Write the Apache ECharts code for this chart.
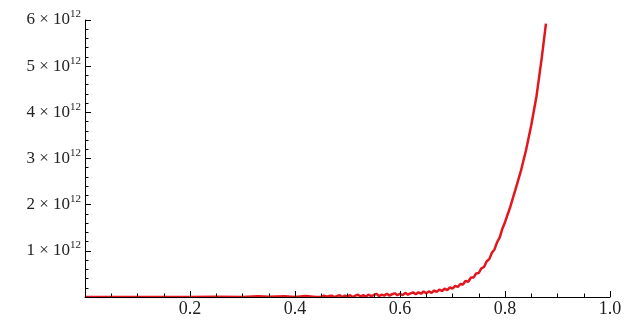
<!DOCTYPE html>
<html>
<head>
<meta charset="utf-8">
<script src="https://cdn.jsdelivr.net/npm/echarts@6/dist/echarts.min.js"></script>
<style>
  html, body { margin: 0; padding: 0; background: #fff; }
  #chart { width: 629px; height: 323px; }
</style>
</head>
<body>
<div id="chart"></div>
<script>
// curve, y in units of 10^12
const xValues = [
  0, 0.1, 0.2, 0.25, 0.3, 0.33, 0.35, 0.38, 0.4, 0.42, 0.44,
  0.450, 0.455, 0.460, 0.465, 0.470, 0.475, 0.480, 0.485, 0.490, 0.495,
  0.500, 0.505, 0.510, 0.515, 0.520, 0.525, 0.530, 0.535, 0.540, 0.545,
  0.550, 0.555, 0.560, 0.565, 0.570, 0.575, 0.580, 0.585, 0.590, 0.595,
  0.600, 0.605, 0.610, 0.615, 0.620, 0.625, 0.630, 0.635, 0.640, 0.645,
  0.650, 0.655, 0.660, 0.665, 0.670, 0.675, 0.680, 0.685, 0.690, 0.695,
  0.700, 0.705, 0.710, 0.715, 0.720, 0.725, 0.730, 0.735, 0.740, 0.745,
  0.750, 0.755, 0.760, 0.765, 0.770, 0.775, 0.780, 0.785, 0.790, 0.795,
  0.800, 0.810, 0.820, 0.830, 0.840, 0.850, 0.860, 0.870, 0.878
];
const yValues = [
  0, 0, 0, 0.005, 0, 0.015, 0.005, 0.015, 0, 0.02, 0,
  0.00, 0.03, 0.005, 0.02, 0.03, 0.00, 0.02, 0.04, 0.00, 0.03,
  0.01, 0.04, 0.00, 0.03, 0.05, 0.01, 0.04, 0.01, 0.05, 0.02,
  0.04, 0.07, 0.02, 0.05, 0.03, 0.07, 0.03, 0.06, 0.08, 0.04,
  0.07, 0.04, 0.09, 0.05, 0.08, 0.10, 0.06, 0.10, 0.07, 0.12,
  0.08, 0.12, 0.09, 0.14, 0.11, 0.16, 0.13, 0.18, 0.15, 0.21,
  0.18, 0.24, 0.22, 0.28, 0.27, 0.35, 0.33, 0.42, 0.42, 0.51,
  0.52, 0.62, 0.65, 0.77, 0.82, 0.96, 1.03, 1.19, 1.29, 1.48,
  1.62, 1.95, 2.33, 2.72, 3.18, 3.72, 4.35, 5.18, 5.92
];
const xTickLabels = [0.2, 0.4, 0.6, 0.8, 1.0];
const yTickLabels = [1, 2, 3, 4, 5, 6]; // x 10^12

const SCALE = 1e12;
const serif = 'Liberation Serif';

const isLabel = (list, v) => list.some(t => Math.abs(t - v) < 1e-6);

const myChart = echarts.init(document.getElementById('chart'));

myChart.setOption({
  animation: false,
  grid: { left: 85, right: 19, top: 20, bottom: 26 },
  xAxis: {
    type: 'value', min: 0, max: 1, interval: 0.2, z: 3,
    splitLine: { show: false },
    axisLine: { lineStyle: { color: '#000', width: 1 } },
    axisTick: { inside: true, length: 6, lineStyle: { color: '#000' } },
    minorTick: { show: true, splitNumber: 4, length: 3.5, lineStyle: { color: '#000' } },
    minorSplitLine: { show: false },
    axisLabel: {
      formatter: v => (isLabel(xTickLabels, v) ? v.toFixed(1) : ''),
      fontFamily: serif, fontSize: 18, color: '#222', margin: 3
    }
  },
  yAxis: {
    type: 'value', min: 0, max: 6 * SCALE, interval: SCALE, z: 3,
    splitLine: { show: false },
    axisLine: { show: true, lineStyle: { color: '#000', width: 1 } },
    axisTick: { show: true, inside: true, length: 6, lineStyle: { color: '#000' } },
    minorTick: { show: true, splitNumber: 5, length: 3.5, lineStyle: { color: '#000' } },
    minorSplitLine: { show: false },
    axisLabel: {
      formatter: v => (isLabel(yTickLabels, v / SCALE)
        ? '{a|' + Math.round(v / SCALE) + ' \u00d7 10}{b|12}' : ''),
      margin: 4,
      rich: {
        a: { fontFamily: serif, fontSize: 17, color: '#222' },
        b: { fontFamily: serif, fontSize: 11, color: '#222', padding: [0, 0, 11, 0] }
      }
    }
  },
  series: [{
    type: 'line',
    showSymbol: false,
    data: xValues.map((x, i) => [x, yValues[i] * SCALE]),
    lineStyle: { color: '#e3161d', width: 2.5 },
    z: 2
  }]
});
</script>
</body>
</html>
